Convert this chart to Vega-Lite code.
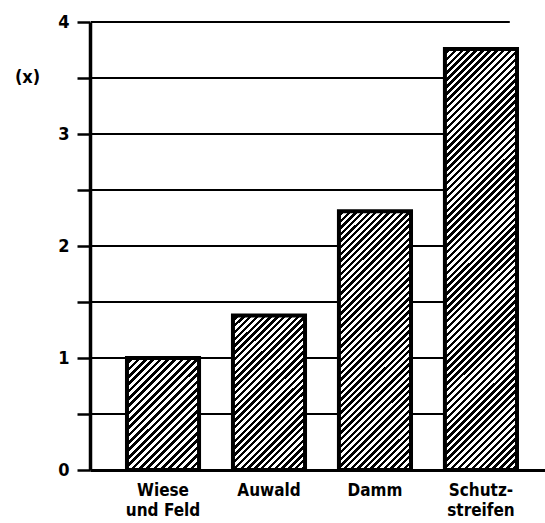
{
  "$schema": "https://vega.github.io/schema/vega-lite/v6.json",
  "autosize": {"type": "none"},
  "padding": {"left": 90, "top": 22, "right": 0, "bottom": 53},
  "width": 455,
  "height": 448,
  "config": {"view": {"stroke": null}, "font": "Liberation Sans Narrow, DejaVu Sans Condensed, sans-serif"},
  "datasets": {
    "bars": [
      {"cat": "Wiese und Feld", "v": 1.0},
      {"cat": "Auwald", "v": 1.38},
      {"cat": "Damm", "v": 2.31},
      {"cat": "Schutzstreifen", "v": 3.76}
    ],
    "grid": [{"v": 0.5}, {"v": 1}, {"v": 1.5}, {"v": 2}, {"v": 2.5}, {"v": 3}, {"v": 3.5}, {"v": 4}]
  },
  "encoding": {
    "y": {"field": "v", "type": "quantitative", "scale": {"domain": [0, 4], "nice": false},
      "axis": {"title": "(x)", "titleAngle": 0, "titleX": -63, "titleY": 55, "titleAlign": "center", "titleBaseline": "middle",
        "titleFontSize": 18, "titleFontWeight": "bold", "titleColor": "black",
        "values": [0, 0.5, 1, 1.5, 2, 2.5, 3, 3.5, 4], "grid": false,
        "labelExpr": "datum.value % 1 == 0 ? format(datum.value, 'd') : ''",
        "tickSize": 13, "tickWidth": 2.5, "tickColor": "black", "domainColor": "black", "domainWidth": 3.5,
        "labelFontSize": 18, "labelFontWeight": "bold", "labelColor": "black", "labelPadding": 8}}
  },
  "layer": [
    {
      "data": {"name": "grid"},
      "mark": {"type": "rule", "color": "black", "strokeWidth": 2},
      "encoding": {
        "x": {"datum": "Wiese und Feld", "bandPosition": -0.5, "type": "nominal"},
        "x2": {"datum": "Schutzstreifen", "bandPosition": 0.9}
      }
    },
    {
      "data": {"name": "bars"},
      "mark": {"type": "bar", "stroke": "black", "strokeWidth": 4},
      "encoding": {
        "x": {"field": "cat", "type": "nominal", "sort": null,
          "scale": {"domain": ["Wiese und Feld", "Auwald", "Damm", "Schutzstreifen"], "paddingInner": 0.32, "paddingOuter": 0.3066, "align": 0.569},
          "axis": {"title": null, "ticks": false, "domainColor": "black", "domainWidth": 3, "labelAngle": 0, "labelAlign": "center",
            "labelFontSize": 17, "labelFontWeight": "bold", "labelColor": "black", "labelPadding": 20, "labelLineHeight": 20,
            "labelExpr": "datum.value == 'Wiese und Feld' ? ['Wiese', 'und Feld'] : datum.value == 'Schutzstreifen' ? ['Schutz-', 'streifen'] : datum.value"}},
        "fill": {
          "condition": [
            {"test": "datum.cat == 'Auwald'", "value": {"gradient": "linear", "x1": 0, "y1": 0, "x2": 0.561, "y2": 1.2045, "stops": [
              {"offset":0,"color":"#fff"},
              {"offset":0.015,"color":"#fff"},{"offset":0.015,"color":"#000"},{"offset":0.03,"color":"#000"},{"offset":0.03,"color":"#fff"},
              {"offset":0.045,"color":"#fff"},{"offset":0.045,"color":"#000"},{"offset":0.06,"color":"#000"},{"offset":0.06,"color":"#fff"},
              {"offset":0.075,"color":"#fff"},{"offset":0.075,"color":"#000"},{"offset":0.09,"color":"#000"},{"offset":0.09,"color":"#fff"},
              {"offset":0.105,"color":"#fff"},{"offset":0.105,"color":"#000"},{"offset":0.12,"color":"#000"},{"offset":0.12,"color":"#fff"},
              {"offset":0.135,"color":"#fff"},{"offset":0.135,"color":"#000"},{"offset":0.15,"color":"#000"},{"offset":0.15,"color":"#fff"},
              {"offset":0.165,"color":"#fff"},{"offset":0.165,"color":"#000"},{"offset":0.18,"color":"#000"},{"offset":0.18,"color":"#fff"},
              {"offset":0.195,"color":"#fff"},{"offset":0.195,"color":"#000"},{"offset":0.21,"color":"#000"},{"offset":0.21,"color":"#fff"},
              {"offset":0.225,"color":"#fff"},{"offset":0.225,"color":"#000"},{"offset":0.24,"color":"#000"},{"offset":0.24,"color":"#fff"},
              {"offset":0.255,"color":"#fff"},{"offset":0.255,"color":"#000"},{"offset":0.27,"color":"#000"},{"offset":0.27,"color":"#fff"},
              {"offset":0.285,"color":"#fff"},{"offset":0.285,"color":"#000"},{"offset":0.3,"color":"#000"},{"offset":0.3,"color":"#fff"},
              {"offset":0.315,"color":"#fff"},{"offset":0.315,"color":"#000"},{"offset":0.33,"color":"#000"},{"offset":0.33,"color":"#fff"},
              {"offset":0.345,"color":"#fff"},{"offset":0.345,"color":"#000"},{"offset":0.36,"color":"#000"},{"offset":0.36,"color":"#fff"},
              {"offset":0.375,"color":"#fff"},{"offset":0.375,"color":"#000"},{"offset":0.39,"color":"#000"},{"offset":0.39,"color":"#fff"},
              {"offset":0.405,"color":"#fff"},{"offset":0.405,"color":"#000"},{"offset":0.42,"color":"#000"},{"offset":0.42,"color":"#fff"},
              {"offset":0.435,"color":"#fff"},{"offset":0.435,"color":"#000"},{"offset":0.45,"color":"#000"},{"offset":0.45,"color":"#fff"},
              {"offset":0.465,"color":"#fff"},{"offset":0.465,"color":"#000"},{"offset":0.48,"color":"#000"},{"offset":0.48,"color":"#fff"},
              {"offset":0.495,"color":"#fff"},{"offset":0.495,"color":"#000"},{"offset":0.51,"color":"#000"},{"offset":0.51,"color":"#fff"},
              {"offset":0.525,"color":"#fff"},{"offset":0.525,"color":"#000"},{"offset":0.54,"color":"#000"},{"offset":0.54,"color":"#fff"},
              {"offset":0.555,"color":"#fff"},{"offset":0.555,"color":"#000"},{"offset":0.57,"color":"#000"},{"offset":0.57,"color":"#fff"},
              {"offset":0.585,"color":"#fff"},{"offset":0.585,"color":"#000"},{"offset":0.6,"color":"#000"},{"offset":0.6,"color":"#fff"},
              {"offset":0.615,"color":"#fff"},{"offset":0.615,"color":"#000"},{"offset":0.63,"color":"#000"},{"offset":0.63,"color":"#fff"},
              {"offset":0.645,"color":"#fff"},{"offset":0.645,"color":"#000"},{"offset":0.66,"color":"#000"},{"offset":0.66,"color":"#fff"},
              {"offset":0.675,"color":"#fff"},{"offset":0.675,"color":"#000"},{"offset":0.69,"color":"#000"},{"offset":0.69,"color":"#fff"},
              {"offset":0.705,"color":"#fff"},{"offset":0.705,"color":"#000"},{"offset":0.72,"color":"#000"},{"offset":0.72,"color":"#fff"},
              {"offset":0.735,"color":"#fff"},{"offset":0.735,"color":"#000"},{"offset":0.75,"color":"#000"},{"offset":0.75,"color":"#fff"},
              {"offset":0.765,"color":"#fff"},{"offset":0.765,"color":"#000"},{"offset":0.78,"color":"#000"},{"offset":0.78,"color":"#fff"},
              {"offset":0.795,"color":"#fff"},{"offset":0.795,"color":"#000"},{"offset":0.81,"color":"#000"},{"offset":0.81,"color":"#fff"},
              {"offset":0.825,"color":"#fff"},{"offset":0.825,"color":"#000"},{"offset":0.84,"color":"#000"},{"offset":0.84,"color":"#fff"},
              {"offset":0.855,"color":"#fff"},{"offset":0.855,"color":"#000"},{"offset":0.87,"color":"#000"},{"offset":0.87,"color":"#fff"},
              {"offset":0.885,"color":"#fff"},{"offset":0.885,"color":"#000"},{"offset":0.9,"color":"#000"},{"offset":0.9,"color":"#fff"},
              {"offset":0.915,"color":"#fff"},{"offset":0.915,"color":"#000"},{"offset":0.93,"color":"#000"},{"offset":0.93,"color":"#fff"},
              {"offset":0.945,"color":"#fff"},{"offset":0.945,"color":"#000"},{"offset":0.96,"color":"#000"},{"offset":0.96,"color":"#fff"},
              {"offset":0.975,"color":"#fff"},{"offset":0.975,"color":"#000"},{"offset":0.99,"color":"#000"},{"offset":0.99,"color":"#fff"},
              {"offset":1,"color":"#fff"}
            ]}},
            {"test": "datum.cat == 'Damm'", "value": {"gradient": "linear", "x1": 0, "y1": 0, "x2": 0.3302, "y2": 1.1864, "stops": [
              {"offset":0,"color":"#fff"},
              {"offset":0.01,"color":"#fff"},{"offset":0.01,"color":"#000"},{"offset":0.02,"color":"#000"},{"offset":0.02,"color":"#fff"},
              {"offset":0.03,"color":"#fff"},{"offset":0.03,"color":"#000"},{"offset":0.04,"color":"#000"},{"offset":0.04,"color":"#fff"},
              {"offset":0.05,"color":"#fff"},{"offset":0.05,"color":"#000"},{"offset":0.06,"color":"#000"},{"offset":0.06,"color":"#fff"},
              {"offset":0.07,"color":"#fff"},{"offset":0.07,"color":"#000"},{"offset":0.08,"color":"#000"},{"offset":0.08,"color":"#fff"},
              {"offset":0.09,"color":"#fff"},{"offset":0.09,"color":"#000"},{"offset":0.1,"color":"#000"},{"offset":0.1,"color":"#fff"},
              {"offset":0.11,"color":"#fff"},{"offset":0.11,"color":"#000"},{"offset":0.12,"color":"#000"},{"offset":0.12,"color":"#fff"},
              {"offset":0.13,"color":"#fff"},{"offset":0.13,"color":"#000"},{"offset":0.14,"color":"#000"},{"offset":0.14,"color":"#fff"},
              {"offset":0.15,"color":"#fff"},{"offset":0.15,"color":"#000"},{"offset":0.16,"color":"#000"},{"offset":0.16,"color":"#fff"},
              {"offset":0.17,"color":"#fff"},{"offset":0.17,"color":"#000"},{"offset":0.18,"color":"#000"},{"offset":0.18,"color":"#fff"},
              {"offset":0.19,"color":"#fff"},{"offset":0.19,"color":"#000"},{"offset":0.2,"color":"#000"},{"offset":0.2,"color":"#fff"},
              {"offset":0.21,"color":"#fff"},{"offset":0.21,"color":"#000"},{"offset":0.22,"color":"#000"},{"offset":0.22,"color":"#fff"},
              {"offset":0.23,"color":"#fff"},{"offset":0.23,"color":"#000"},{"offset":0.24,"color":"#000"},{"offset":0.24,"color":"#fff"},
              {"offset":0.25,"color":"#fff"},{"offset":0.25,"color":"#000"},{"offset":0.26,"color":"#000"},{"offset":0.26,"color":"#fff"},
              {"offset":0.27,"color":"#fff"},{"offset":0.27,"color":"#000"},{"offset":0.28,"color":"#000"},{"offset":0.28,"color":"#fff"},
              {"offset":0.29,"color":"#fff"},{"offset":0.29,"color":"#000"},{"offset":0.3,"color":"#000"},{"offset":0.3,"color":"#fff"},
              {"offset":0.31,"color":"#fff"},{"offset":0.31,"color":"#000"},{"offset":0.32,"color":"#000"},{"offset":0.32,"color":"#fff"},
              {"offset":0.33,"color":"#fff"},{"offset":0.33,"color":"#000"},{"offset":0.34,"color":"#000"},{"offset":0.34,"color":"#fff"},
              {"offset":0.35,"color":"#fff"},{"offset":0.35,"color":"#000"},{"offset":0.36,"color":"#000"},{"offset":0.36,"color":"#fff"},
              {"offset":0.37,"color":"#fff"},{"offset":0.37,"color":"#000"},{"offset":0.38,"color":"#000"},{"offset":0.38,"color":"#fff"},
              {"offset":0.39,"color":"#fff"},{"offset":0.39,"color":"#000"},{"offset":0.4,"color":"#000"},{"offset":0.4,"color":"#fff"},
              {"offset":0.41,"color":"#fff"},{"offset":0.41,"color":"#000"},{"offset":0.42,"color":"#000"},{"offset":0.42,"color":"#fff"},
              {"offset":0.43,"color":"#fff"},{"offset":0.43,"color":"#000"},{"offset":0.44,"color":"#000"},{"offset":0.44,"color":"#fff"},
              {"offset":0.45,"color":"#fff"},{"offset":0.45,"color":"#000"},{"offset":0.46,"color":"#000"},{"offset":0.46,"color":"#fff"},
              {"offset":0.47,"color":"#fff"},{"offset":0.47,"color":"#000"},{"offset":0.48,"color":"#000"},{"offset":0.48,"color":"#fff"},
              {"offset":0.49,"color":"#fff"},{"offset":0.49,"color":"#000"},{"offset":0.5,"color":"#000"},{"offset":0.5,"color":"#fff"},
              {"offset":0.51,"color":"#fff"},{"offset":0.51,"color":"#000"},{"offset":0.52,"color":"#000"},{"offset":0.52,"color":"#fff"},
              {"offset":0.53,"color":"#fff"},{"offset":0.53,"color":"#000"},{"offset":0.54,"color":"#000"},{"offset":0.54,"color":"#fff"},
              {"offset":0.55,"color":"#fff"},{"offset":0.55,"color":"#000"},{"offset":0.56,"color":"#000"},{"offset":0.56,"color":"#fff"},
              {"offset":0.57,"color":"#fff"},{"offset":0.57,"color":"#000"},{"offset":0.58,"color":"#000"},{"offset":0.58,"color":"#fff"},
              {"offset":0.59,"color":"#fff"},{"offset":0.59,"color":"#000"},{"offset":0.6,"color":"#000"},{"offset":0.6,"color":"#fff"},
              {"offset":0.61,"color":"#fff"},{"offset":0.61,"color":"#000"},{"offset":0.62,"color":"#000"},{"offset":0.62,"color":"#fff"},
              {"offset":0.63,"color":"#fff"},{"offset":0.63,"color":"#000"},{"offset":0.64,"color":"#000"},{"offset":0.64,"color":"#fff"},
              {"offset":0.65,"color":"#fff"},{"offset":0.65,"color":"#000"},{"offset":0.66,"color":"#000"},{"offset":0.66,"color":"#fff"},
              {"offset":0.67,"color":"#fff"},{"offset":0.67,"color":"#000"},{"offset":0.68,"color":"#000"},{"offset":0.68,"color":"#fff"},
              {"offset":0.69,"color":"#fff"},{"offset":0.69,"color":"#000"},{"offset":0.7,"color":"#000"},{"offset":0.7,"color":"#fff"},
              {"offset":0.71,"color":"#fff"},{"offset":0.71,"color":"#000"},{"offset":0.72,"color":"#000"},{"offset":0.72,"color":"#fff"},
              {"offset":0.73,"color":"#fff"},{"offset":0.73,"color":"#000"},{"offset":0.74,"color":"#000"},{"offset":0.74,"color":"#fff"},
              {"offset":0.75,"color":"#fff"},{"offset":0.75,"color":"#000"},{"offset":0.76,"color":"#000"},{"offset":0.76,"color":"#fff"},
              {"offset":0.77,"color":"#fff"},{"offset":0.77,"color":"#000"},{"offset":0.78,"color":"#000"},{"offset":0.78,"color":"#fff"},
              {"offset":0.79,"color":"#fff"},{"offset":0.79,"color":"#000"},{"offset":0.8,"color":"#000"},{"offset":0.8,"color":"#fff"},
              {"offset":0.81,"color":"#fff"},{"offset":0.81,"color":"#000"},{"offset":0.82,"color":"#000"},{"offset":0.82,"color":"#fff"},
              {"offset":0.83,"color":"#fff"},{"offset":0.83,"color":"#000"},{"offset":0.84,"color":"#000"},{"offset":0.84,"color":"#fff"},
              {"offset":0.85,"color":"#fff"},{"offset":0.85,"color":"#000"},{"offset":0.86,"color":"#000"},{"offset":0.86,"color":"#fff"},
              {"offset":0.87,"color":"#fff"},{"offset":0.87,"color":"#000"},{"offset":0.88,"color":"#000"},{"offset":0.88,"color":"#fff"},
              {"offset":0.89,"color":"#fff"},{"offset":0.89,"color":"#000"},{"offset":0.9,"color":"#000"},{"offset":0.9,"color":"#fff"},
              {"offset":0.91,"color":"#fff"},{"offset":0.91,"color":"#000"},{"offset":0.92,"color":"#000"},{"offset":0.92,"color":"#fff"},
              {"offset":0.93,"color":"#fff"},{"offset":0.93,"color":"#000"},{"offset":0.94,"color":"#000"},{"offset":0.94,"color":"#fff"},
              {"offset":0.95,"color":"#fff"},{"offset":0.95,"color":"#000"},{"offset":0.96,"color":"#000"},{"offset":0.96,"color":"#fff"},
              {"offset":0.97,"color":"#fff"},{"offset":0.97,"color":"#000"},{"offset":0.98,"color":"#000"},{"offset":0.98,"color":"#fff"},
              {"offset":0.99,"color":"#fff"},{"offset":0.99,"color":"#000"},{"offset":1,"color":"#000"}
            ]}},
            {"test": "datum.cat == 'Schutzstreifen'", "value": {"gradient": "linear", "x1": 0, "y1": 0, "x2": 0.1945, "y2": 1.1377, "stops": [
              {"offset":0,"color":"#fff"},
              {"offset":0.007,"color":"#fff"},{"offset":0.007,"color":"#000"},{"offset":0.014,"color":"#000"},{"offset":0.014,"color":"#fff"},
              {"offset":0.021,"color":"#fff"},{"offset":0.021,"color":"#000"},{"offset":0.028,"color":"#000"},{"offset":0.028,"color":"#fff"},
              {"offset":0.035,"color":"#fff"},{"offset":0.035,"color":"#000"},{"offset":0.042,"color":"#000"},{"offset":0.042,"color":"#fff"},
              {"offset":0.049,"color":"#fff"},{"offset":0.049,"color":"#000"},{"offset":0.056,"color":"#000"},{"offset":0.056,"color":"#fff"},
              {"offset":0.063,"color":"#fff"},{"offset":0.063,"color":"#000"},{"offset":0.07,"color":"#000"},{"offset":0.07,"color":"#fff"},
              {"offset":0.077,"color":"#fff"},{"offset":0.077,"color":"#000"},{"offset":0.084,"color":"#000"},{"offset":0.084,"color":"#fff"},
              {"offset":0.091,"color":"#fff"},{"offset":0.091,"color":"#000"},{"offset":0.098,"color":"#000"},{"offset":0.098,"color":"#fff"},
              {"offset":0.105,"color":"#fff"},{"offset":0.105,"color":"#000"},{"offset":0.112,"color":"#000"},{"offset":0.112,"color":"#fff"},
              {"offset":0.119,"color":"#fff"},{"offset":0.119,"color":"#000"},{"offset":0.126,"color":"#000"},{"offset":0.126,"color":"#fff"},
              {"offset":0.133,"color":"#fff"},{"offset":0.133,"color":"#000"},{"offset":0.14,"color":"#000"},{"offset":0.14,"color":"#fff"},
              {"offset":0.147,"color":"#fff"},{"offset":0.147,"color":"#000"},{"offset":0.154,"color":"#000"},{"offset":0.154,"color":"#fff"},
              {"offset":0.161,"color":"#fff"},{"offset":0.161,"color":"#000"},{"offset":0.168,"color":"#000"},{"offset":0.168,"color":"#fff"},
              {"offset":0.175,"color":"#fff"},{"offset":0.175,"color":"#000"},{"offset":0.182,"color":"#000"},{"offset":0.182,"color":"#fff"},
              {"offset":0.189,"color":"#fff"},{"offset":0.189,"color":"#000"},{"offset":0.196,"color":"#000"},{"offset":0.196,"color":"#fff"},
              {"offset":0.203,"color":"#fff"},{"offset":0.203,"color":"#000"},{"offset":0.21,"color":"#000"},{"offset":0.21,"color":"#fff"},
              {"offset":0.217,"color":"#fff"},{"offset":0.217,"color":"#000"},{"offset":0.224,"color":"#000"},{"offset":0.224,"color":"#fff"},
              {"offset":0.231,"color":"#fff"},{"offset":0.231,"color":"#000"},{"offset":0.238,"color":"#000"},{"offset":0.238,"color":"#fff"},
              {"offset":0.245,"color":"#fff"},{"offset":0.245,"color":"#000"},{"offset":0.252,"color":"#000"},{"offset":0.252,"color":"#fff"},
              {"offset":0.259,"color":"#fff"},{"offset":0.259,"color":"#000"},{"offset":0.266,"color":"#000"},{"offset":0.266,"color":"#fff"},
              {"offset":0.273,"color":"#fff"},{"offset":0.273,"color":"#000"},{"offset":0.28,"color":"#000"},{"offset":0.28,"color":"#fff"},
              {"offset":0.287,"color":"#fff"},{"offset":0.287,"color":"#000"},{"offset":0.294,"color":"#000"},{"offset":0.294,"color":"#fff"},
              {"offset":0.301,"color":"#fff"},{"offset":0.301,"color":"#000"},{"offset":0.308,"color":"#000"},{"offset":0.308,"color":"#fff"},
              {"offset":0.315,"color":"#fff"},{"offset":0.315,"color":"#000"},{"offset":0.322,"color":"#000"},{"offset":0.322,"color":"#fff"},
              {"offset":0.329,"color":"#fff"},{"offset":0.329,"color":"#000"},{"offset":0.336,"color":"#000"},{"offset":0.336,"color":"#fff"},
              {"offset":0.343,"color":"#fff"},{"offset":0.343,"color":"#000"},{"offset":0.35,"color":"#000"},{"offset":0.35,"color":"#fff"},
              {"offset":0.357,"color":"#fff"},{"offset":0.357,"color":"#000"},{"offset":0.364,"color":"#000"},{"offset":0.364,"color":"#fff"},
              {"offset":0.371,"color":"#fff"},{"offset":0.371,"color":"#000"},{"offset":0.378,"color":"#000"},{"offset":0.378,"color":"#fff"},
              {"offset":0.385,"color":"#fff"},{"offset":0.385,"color":"#000"},{"offset":0.392,"color":"#000"},{"offset":0.392,"color":"#fff"},
              {"offset":0.399,"color":"#fff"},{"offset":0.399,"color":"#000"},{"offset":0.406,"color":"#000"},{"offset":0.406,"color":"#fff"},
              {"offset":0.413,"color":"#fff"},{"offset":0.413,"color":"#000"},{"offset":0.42,"color":"#000"},{"offset":0.42,"color":"#fff"},
              {"offset":0.427,"color":"#fff"},{"offset":0.427,"color":"#000"},{"offset":0.434,"color":"#000"},{"offset":0.434,"color":"#fff"},
              {"offset":0.441,"color":"#fff"},{"offset":0.441,"color":"#000"},{"offset":0.448,"color":"#000"},{"offset":0.448,"color":"#fff"},
              {"offset":0.455,"color":"#fff"},{"offset":0.455,"color":"#000"},{"offset":0.462,"color":"#000"},{"offset":0.462,"color":"#fff"},
              {"offset":0.469,"color":"#fff"},{"offset":0.469,"color":"#000"},{"offset":0.476,"color":"#000"},{"offset":0.476,"color":"#fff"},
              {"offset":0.483,"color":"#fff"},{"offset":0.483,"color":"#000"},{"offset":0.49,"color":"#000"},{"offset":0.49,"color":"#fff"},
              {"offset":0.497,"color":"#fff"},{"offset":0.497,"color":"#000"},{"offset":0.504,"color":"#000"},{"offset":0.504,"color":"#fff"},
              {"offset":0.511,"color":"#fff"},{"offset":0.511,"color":"#000"},{"offset":0.518,"color":"#000"},{"offset":0.518,"color":"#fff"},
              {"offset":0.525,"color":"#fff"},{"offset":0.525,"color":"#000"},{"offset":0.532,"color":"#000"},{"offset":0.532,"color":"#fff"},
              {"offset":0.539,"color":"#fff"},{"offset":0.539,"color":"#000"},{"offset":0.546,"color":"#000"},{"offset":0.546,"color":"#fff"},
              {"offset":0.553,"color":"#fff"},{"offset":0.553,"color":"#000"},{"offset":0.56,"color":"#000"},{"offset":0.56,"color":"#fff"},
              {"offset":0.567,"color":"#fff"},{"offset":0.567,"color":"#000"},{"offset":0.574,"color":"#000"},{"offset":0.574,"color":"#fff"},
              {"offset":0.581,"color":"#fff"},{"offset":0.581,"color":"#000"},{"offset":0.588,"color":"#000"},{"offset":0.588,"color":"#fff"},
              {"offset":0.595,"color":"#fff"},{"offset":0.595,"color":"#000"},{"offset":0.602,"color":"#000"},{"offset":0.602,"color":"#fff"},
              {"offset":0.609,"color":"#fff"},{"offset":0.609,"color":"#000"},{"offset":0.616,"color":"#000"},{"offset":0.616,"color":"#fff"},
              {"offset":0.623,"color":"#fff"},{"offset":0.623,"color":"#000"},{"offset":0.63,"color":"#000"},{"offset":0.63,"color":"#fff"},
              {"offset":0.637,"color":"#fff"},{"offset":0.637,"color":"#000"},{"offset":0.644,"color":"#000"},{"offset":0.644,"color":"#fff"},
              {"offset":0.651,"color":"#fff"},{"offset":0.651,"color":"#000"},{"offset":0.658,"color":"#000"},{"offset":0.658,"color":"#fff"},
              {"offset":0.665,"color":"#fff"},{"offset":0.665,"color":"#000"},{"offset":0.672,"color":"#000"},{"offset":0.672,"color":"#fff"},
              {"offset":0.679,"color":"#fff"},{"offset":0.679,"color":"#000"},{"offset":0.686,"color":"#000"},{"offset":0.686,"color":"#fff"},
              {"offset":0.693,"color":"#fff"},{"offset":0.693,"color":"#000"},{"offset":0.7,"color":"#000"},{"offset":0.7,"color":"#fff"},
              {"offset":0.707,"color":"#fff"},{"offset":0.707,"color":"#000"},{"offset":0.714,"color":"#000"},{"offset":0.714,"color":"#fff"},
              {"offset":0.721,"color":"#fff"},{"offset":0.721,"color":"#000"},{"offset":0.728,"color":"#000"},{"offset":0.728,"color":"#fff"},
              {"offset":0.735,"color":"#fff"},{"offset":0.735,"color":"#000"},{"offset":0.742,"color":"#000"},{"offset":0.742,"color":"#fff"},
              {"offset":0.749,"color":"#fff"},{"offset":0.749,"color":"#000"},{"offset":0.756,"color":"#000"},{"offset":0.756,"color":"#fff"},
              {"offset":0.763,"color":"#fff"},{"offset":0.763,"color":"#000"},{"offset":0.77,"color":"#000"},{"offset":0.77,"color":"#fff"},
              {"offset":0.777,"color":"#fff"},{"offset":0.777,"color":"#000"},{"offset":0.784,"color":"#000"},{"offset":0.784,"color":"#fff"},
              {"offset":0.791,"color":"#fff"},{"offset":0.791,"color":"#000"},{"offset":0.798,"color":"#000"},{"offset":0.798,"color":"#fff"},
              {"offset":0.805,"color":"#fff"},{"offset":0.805,"color":"#000"},{"offset":0.812,"color":"#000"},{"offset":0.812,"color":"#fff"},
              {"offset":0.819,"color":"#fff"},{"offset":0.819,"color":"#000"},{"offset":0.826,"color":"#000"},{"offset":0.826,"color":"#fff"},
              {"offset":0.833,"color":"#fff"},{"offset":0.833,"color":"#000"},{"offset":0.84,"color":"#000"},{"offset":0.84,"color":"#fff"},
              {"offset":0.847,"color":"#fff"},{"offset":0.847,"color":"#000"},{"offset":0.854,"color":"#000"},{"offset":0.854,"color":"#fff"},
              {"offset":0.861,"color":"#fff"},{"offset":0.861,"color":"#000"},{"offset":0.868,"color":"#000"},{"offset":0.868,"color":"#fff"},
              {"offset":0.875,"color":"#fff"},{"offset":0.875,"color":"#000"},{"offset":0.882,"color":"#000"},{"offset":0.882,"color":"#fff"},
              {"offset":0.889,"color":"#fff"},{"offset":0.889,"color":"#000"},{"offset":0.896,"color":"#000"},{"offset":0.896,"color":"#fff"},
              {"offset":0.903,"color":"#fff"},{"offset":0.903,"color":"#000"},{"offset":0.91,"color":"#000"},{"offset":0.91,"color":"#fff"},
              {"offset":0.917,"color":"#fff"},{"offset":0.917,"color":"#000"},{"offset":0.924,"color":"#000"},{"offset":0.924,"color":"#fff"},
              {"offset":0.931,"color":"#fff"},{"offset":0.931,"color":"#000"},{"offset":0.938,"color":"#000"},{"offset":0.938,"color":"#fff"},
              {"offset":0.945,"color":"#fff"},{"offset":0.945,"color":"#000"},{"offset":0.952,"color":"#000"},{"offset":0.952,"color":"#fff"},
              {"offset":0.959,"color":"#fff"},{"offset":0.959,"color":"#000"},{"offset":0.966,"color":"#000"},{"offset":0.966,"color":"#fff"},
              {"offset":0.973,"color":"#fff"},{"offset":0.973,"color":"#000"},{"offset":0.98,"color":"#000"},{"offset":0.98,"color":"#fff"},
              {"offset":0.987,"color":"#fff"},{"offset":0.987,"color":"#000"},{"offset":0.994,"color":"#000"},{"offset":0.994,"color":"#fff"},
              {"offset":1,"color":"#fff"}
            ]}}
          ],
          "value": {"gradient": "linear", "x1": 0, "y1": 0, "x2": 0.7473, "y2": 1.1625, "stops": [
            {"offset":0,"color":"#fff"},
            {"offset":0.02,"color":"#fff"},{"offset":0.02,"color":"#000"},{"offset":0.04,"color":"#000"},{"offset":0.04,"color":"#fff"},
            {"offset":0.06,"color":"#fff"},{"offset":0.06,"color":"#000"},{"offset":0.08,"color":"#000"},{"offset":0.08,"color":"#fff"},
            {"offset":0.1,"color":"#fff"},{"offset":0.1,"color":"#000"},{"offset":0.12,"color":"#000"},{"offset":0.12,"color":"#fff"},
            {"offset":0.14,"color":"#fff"},{"offset":0.14,"color":"#000"},{"offset":0.16,"color":"#000"},{"offset":0.16,"color":"#fff"},
            {"offset":0.18,"color":"#fff"},{"offset":0.18,"color":"#000"},{"offset":0.2,"color":"#000"},{"offset":0.2,"color":"#fff"},
            {"offset":0.22,"color":"#fff"},{"offset":0.22,"color":"#000"},{"offset":0.24,"color":"#000"},{"offset":0.24,"color":"#fff"},
            {"offset":0.26,"color":"#fff"},{"offset":0.26,"color":"#000"},{"offset":0.28,"color":"#000"},{"offset":0.28,"color":"#fff"},
            {"offset":0.3,"color":"#fff"},{"offset":0.3,"color":"#000"},{"offset":0.32,"color":"#000"},{"offset":0.32,"color":"#fff"},
            {"offset":0.34,"color":"#fff"},{"offset":0.34,"color":"#000"},{"offset":0.36,"color":"#000"},{"offset":0.36,"color":"#fff"},
            {"offset":0.38,"color":"#fff"},{"offset":0.38,"color":"#000"},{"offset":0.4,"color":"#000"},{"offset":0.4,"color":"#fff"},
            {"offset":0.42,"color":"#fff"},{"offset":0.42,"color":"#000"},{"offset":0.44,"color":"#000"},{"offset":0.44,"color":"#fff"},
            {"offset":0.46,"color":"#fff"},{"offset":0.46,"color":"#000"},{"offset":0.48,"color":"#000"},{"offset":0.48,"color":"#fff"},
            {"offset":0.5,"color":"#fff"},{"offset":0.5,"color":"#000"},{"offset":0.52,"color":"#000"},{"offset":0.52,"color":"#fff"},
            {"offset":0.54,"color":"#fff"},{"offset":0.54,"color":"#000"},{"offset":0.56,"color":"#000"},{"offset":0.56,"color":"#fff"},
            {"offset":0.58,"color":"#fff"},{"offset":0.58,"color":"#000"},{"offset":0.6,"color":"#000"},{"offset":0.6,"color":"#fff"},
            {"offset":0.62,"color":"#fff"},{"offset":0.62,"color":"#000"},{"offset":0.64,"color":"#000"},{"offset":0.64,"color":"#fff"},
            {"offset":0.66,"color":"#fff"},{"offset":0.66,"color":"#000"},{"offset":0.68,"color":"#000"},{"offset":0.68,"color":"#fff"},
            {"offset":0.7,"color":"#fff"},{"offset":0.7,"color":"#000"},{"offset":0.72,"color":"#000"},{"offset":0.72,"color":"#fff"},
            {"offset":0.74,"color":"#fff"},{"offset":0.74,"color":"#000"},{"offset":0.76,"color":"#000"},{"offset":0.76,"color":"#fff"},
            {"offset":0.78,"color":"#fff"},{"offset":0.78,"color":"#000"},{"offset":0.8,"color":"#000"},{"offset":0.8,"color":"#fff"},
            {"offset":0.82,"color":"#fff"},{"offset":0.82,"color":"#000"},{"offset":0.84,"color":"#000"},{"offset":0.84,"color":"#fff"},
            {"offset":0.86,"color":"#fff"},{"offset":0.86,"color":"#000"},{"offset":0.88,"color":"#000"},{"offset":0.88,"color":"#fff"},
            {"offset":0.9,"color":"#fff"},{"offset":0.9,"color":"#000"},{"offset":0.92,"color":"#000"},{"offset":0.92,"color":"#fff"},
            {"offset":0.94,"color":"#fff"},{"offset":0.94,"color":"#000"},{"offset":0.96,"color":"#000"},{"offset":0.96,"color":"#fff"},
            {"offset":0.98,"color":"#fff"},{"offset":0.98,"color":"#000"},{"offset":1,"color":"#000"}
          ]}
        }
      }
    }
  ]
}
